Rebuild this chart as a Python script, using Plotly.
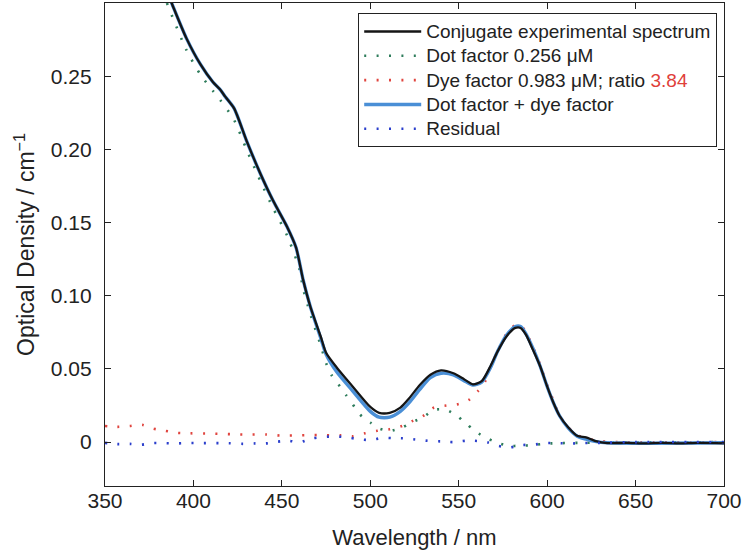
import plotly.graph_objects as go

# ---------------- data ----------------
wl_exp = [385, 388, 396, 404, 411, 415, 418, 423, 430, 438, 445, 453, 458, 462, 466, 472,
          475, 481, 490, 500, 505, 511, 517, 522, 528, 534, 540, 547, 553, 558, 563, 568,
          572, 577, 582, 585, 588, 592, 596, 600, 603.5, 607, 612, 617, 622, 627, 634,
          645, 655, 665, 675, 685, 700]
od_exp = [0.308, 0.299, 0.276, 0.258, 0.246, 0.241, 0.236, 0.228, 0.206, 0.183, 0.165, 0.147,
          0.133, 0.111, 0.093, 0.072, 0.061, 0.051, 0.038, 0.024, 0.020, 0.020, 0.0236, 0.030,
          0.039, 0.046, 0.049, 0.047, 0.043, 0.0395, 0.0416, 0.052, 0.062, 0.0722, 0.078,
          0.078, 0.0734, 0.063, 0.052, 0.038, 0.027, 0.018, 0.010, 0.0043, 0.0032, 0.0009,
          -0.0007, -0.0005, -0.0009, -0.0006, -0.0009, -0.0006, -0.0008]

wl_fit = [385, 388, 396, 404, 411, 415, 418, 423, 430, 438, 445, 453, 458, 462, 466, 472,
          475, 481, 490, 500, 505, 511, 517, 522, 528, 534, 540, 547, 553, 558, 563, 568,
          572, 577, 582, 585, 588, 592, 596, 600, 603.5, 607, 612, 617, 622, 627, 634, 700]
od_fit = [0.308, 0.299, 0.276, 0.258, 0.246, 0.241, 0.236, 0.228, 0.206, 0.183, 0.165, 0.147,
          0.133, 0.111, 0.093, 0.071, 0.060, 0.048, 0.035, 0.021, 0.017, 0.017, 0.021, 0.027,
          0.036, 0.044, 0.047, 0.046, 0.042, 0.039, 0.041, 0.051, 0.062, 0.073, 0.079, 0.079,
          0.074, 0.064, 0.052, 0.038, 0.027, 0.018, 0.0095, 0.004, 0.002, 0.0005, -0.0005,
          -0.0005]

wl_dot = [385, 396, 404, 411, 415, 423, 430, 438, 445, 453, 460, 462, 466, 472, 475, 478,
          482, 486, 490, 494, 500, 505, 511, 518, 524, 530, 536, 543, 549, 554, 559, 565,
          571, 578, 585, 592, 600, 620, 700]
od_dot = [0.300, 0.268, 0.251, 0.240, 0.234, 0.220, 0.200, 0.178, 0.160, 0.141, 0.118, 0.105,
          0.088, 0.066, 0.054, 0.046, 0.0394, 0.0326, 0.026, 0.019, 0.0134, 0.0093, 0.0077,
          0.010, 0.0138, 0.017, 0.022, 0.022, 0.018, 0.0129, 0.0077, 0.0032, 0.0, -0.0025,
          -0.0025, -0.002, -0.001, -0.0005, 0.0]

wl_dye = [350, 357, 364, 371, 377, 384, 391, 398, 410, 428, 441, 449, 456, 463, 470, 477,
          483, 490, 497, 504, 511, 518, 524, 530, 536, 543, 550, 556, 561, 565, 568, 572,
          577, 582, 585, 588, 592, 596, 600, 604, 607, 612, 617, 622, 627, 640, 700]
od_dye = [0.011, 0.0104, 0.011, 0.0118, 0.0093, 0.0077, 0.0063, 0.006, 0.0058, 0.0052, 0.0052,
          0.0045, 0.0045, 0.0047, 0.0048, 0.0047, 0.0047, 0.0039, 0.006, 0.0077, 0.0088, 0.011,
          0.0145, 0.018, 0.0236, 0.025, 0.026, 0.029, 0.035, 0.0416, 0.052, 0.062, 0.074,
          0.080, 0.080, 0.075, 0.065, 0.053, 0.039, 0.027, 0.018, 0.010, 0.0045, 0.003, 0.001,
          0.0, 0.0]

wl_res = [350, 357, 364, 370, 377, 384, 391, 398, 405, 420, 428, 435, 441, 447, 454, 460,
          467, 473, 480, 487, 493, 500, 507, 513, 520, 527, 534, 540, 547, 554, 559, 566,
          572, 579, 586, 592, 599, 606, 613, 620, 630, 650, 700]
od_res = [-0.0005, -0.0014, -0.0012, -0.0018, -0.0007, -0.0008, -0.0009, -0.0006, -0.0007,
          -0.0008, -0.0012, -0.0009, -0.0009, 0.0002, 0.0009, -0.0002, 0.0025, 0.0034, 0.0039,
          0.0032, 0.002, 0.0014, 0.0029, 0.0027, 0.0025, 0.0016, 0.0007, 0.0005, 0.0, 0.0009,
          0.0009, 0.0, -0.0025, -0.0036, -0.002, -0.0018, -0.0007, -0.0007, -0.001, -0.0007,
          -0.0005, 0.0, 0.0]

x_ticks = [350, 400, 450, 500, 550, 600, 650, 700]
y_ticks = [0, 0.05, 0.10, 0.15, 0.20, 0.25]
y_ticktext = ["0", "0.05", "0.10", "0.15", "0.20", "0.25"]

# ---------------- figure ----------------
FONT = "Liberation Sans, Arial, Helvetica, sans-serif"
DOTS = "2px,10.4px"
SM = 0.7


def big(t):
    return "<span style='font-size:19px'>" + t + "</span>"


fig = go.Figure()
fig.add_trace(go.Scatter(x=wl_dot, y=od_dot, mode="lines", name=big("Dot factor 0.256 μM"),
                         line=dict(color="#2f7d5c", width=2.6, dash=DOTS, shape="spline",
                                   smoothing=SM), legendrank=2))
fig.add_trace(go.Scatter(x=wl_dye, y=od_dye, mode="lines",
                         name=big("Dye factor 0.983 μM; ratio <span style='color:#e0403a'>3.84</span>"),
                         line=dict(color="#e0453f", width=2.6, dash=DOTS, shape="spline",
                                   smoothing=SM), legendrank=3))
fig.add_trace(go.Scatter(x=wl_fit, y=od_fit, mode="lines", name=big("Dot factor + dye factor"),
                         line=dict(color="#4a8fd6", width=3.4, shape="spline", smoothing=SM),
                         legendrank=4))
fig.add_trace(go.Scatter(x=wl_exp, y=od_exp, mode="lines",
                         name=big("Conjugate experimental spectrum"),
                         line=dict(color="#151515", width=2.3, shape="spline", smoothing=SM),
                         legendrank=1))
fig.add_trace(go.Scatter(x=wl_res, y=od_res, mode="lines", name=big("Residual"),
                         line=dict(color="#2b3fcc", width=2.6, dash=DOTS, shape="spline",
                                   smoothing=SM), legendrank=5))

axis_common = dict(showline=True, linecolor="#222", linewidth=1.2, mirror="ticks",
                   ticks="inside", ticklen=6, tickwidth=1.2, tickcolor="#222",
                   showgrid=False, zeroline=False,
                   tickfont=dict(family=FONT, size=21, color="#222"))

fig.update_layout(
    width=746, height=559,
    margin=dict(l=105, r=22, t=3, b=73),
    paper_bgcolor="white", plot_bgcolor="white",
    font=dict(family=FONT, color="#222"),
    showlegend=True,
    legend=dict(x=0.9887, y=0.979, xanchor="right", yanchor="top",
                bgcolor="white", bordercolor="#222", borderwidth=1.2,
                font=dict(family=FONT, size=16.4, color="#222"),
                itemwidth=57, tracegroupgap=0),
    xaxis=dict(range=[350, 700], tickvals=x_ticks, ticklabelstandoff=-4,
               title=dict(text="Wavelength / nm", font=dict(family=FONT, size=22, color="#222"),
                          standoff=18),
               **axis_common),
    yaxis=dict(range=[-0.03, 0.30], tickvals=y_ticks, ticktext=y_ticktext, ticklabelstandoff=8,
               title=dict(text="Optical Density / cm<sup>−1</sup>",
                          font=dict(family=FONT, size=23, color="#222"), standoff=9),
               **axis_common),
)

fig.write_html("out.html", config={"displayModeBar": False},
               post_script="document.body.style.margin='0';document.body.style.overflow='hidden';")
